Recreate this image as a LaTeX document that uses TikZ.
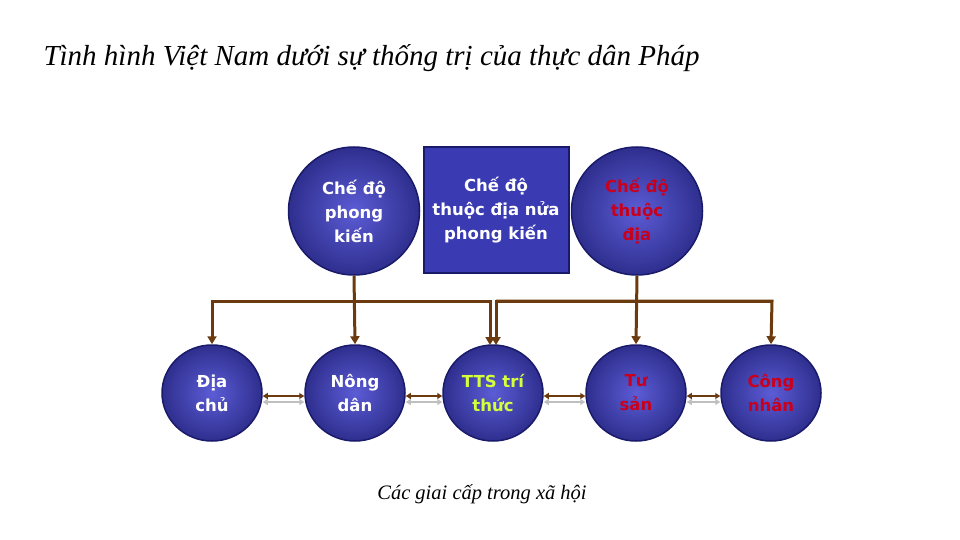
\documentclass[tikz,border=0pt]{standalone}
\usepackage{fontspec}
\setmainfont{Liberation Serif}
\newfontfamily\bubfont{DejaVu Sans}
\usetikzlibrary{arrows.meta,shapes.geometric}
\definecolor{brn}{HTML}{6B3A0E}
\definecolor{bblue}{HTML}{3A3AB2}
\definecolor{dblue}{HTML}{1A1A6A}
\definecolor{lblue}{HTML}{5C5CD6}
\definecolor{rtxt}{HTML}{C8001E}
\definecolor{ytxt}{HTML}{D4FF3A}
\begin{document}
\begin{tikzpicture}[x=1pt,y=-1pt,
  bub/.style={ellipse,draw=dblue,line width=1.5pt,inner color=lblue,outer color=bblue!80!black,
    font=\bubfont\bfseries\fontsize{16.5}{24}\selectfont,align=center,text=white},
  big/.style={bub,minimum width=131pt,minimum height=128pt,inner sep=0pt},
  small/.style={bub,minimum width=100pt,minimum height=96pt,inner sep=0pt},
  conn/.style={draw=brn,line width=3pt,-{Triangle[length=8pt,width=9pt]}},
  dbl/.style={draw=brn,line width=2pt,{Triangle[length=5pt,width=6pt]}-{Triangle[length=5pt,width=6pt]}},
  shd/.style={draw=gray!50,line width=2pt,{Triangle[length=5pt,width=6pt]}-{Triangle[length=5pt,width=6pt]}}]
\useasboundingbox (0,0) rectangle (960,540);
\node[anchor=west,font=\itshape\fontsize{29}{33}\selectfont] (title) at (40,58) {Tình hình Việt Nam dưới sự thống trị của thực dân Pháp};
\node[big] (fk) at (354,211) {Chế độ\\phong\\kiến};
\node[big,text=rtxt] (td) at (637,211) {Chế độ\\thuộc\\địa};
\node[draw=dblue,line width=2pt,fill=bblue,minimum width=145pt,minimum height=126pt,inner sep=0pt,
  font=\bubfont\bfseries\fontsize{16.5}{24}\selectfont,align=center,text=white] (sq) at (496,210) {Chế độ\\thuộc địa nửa\\phong kiến};
\node[small] (dc) at (212,393) {Địa\\chủ};
\node[small] (nd) at (355,393) {Nông\\dân};
\node[small,text=ytxt] (tts) at (493,393) {TTS trí\\thức};
\node[small,text=rtxt] (ts) at (636,393) {Tư\\sản};
\node[small,text=rtxt] (cn) at (771,393) {Công\\nhân};
\coordinate (l1) at (212,301);
\coordinate (l2) at (490,301);
\coordinate (r1) at (496,301);
\coordinate (r2) at (772,301);
\draw[conn] (fk.south) -- (nd.north);
\draw[conn] (td.south) -- (ts.north);
\draw[conn] (l2) -- (l1) -- (dc.north);
\draw[conn] (l1) -- (l2) -- (490,345);
\draw[conn] (r2) -- (r1) -- (496,345);
\draw[conn] (r1) -- (r2) -- (cn.north);
\foreach \a/\b in {dc/nd,nd/tts,tts/ts,ts/cn}{
  \draw[shd] ([yshift=-9pt]\a.east) -- ([yshift=-9pt]\b.west);
  \draw[dbl] ([yshift=-3pt]\a.east) -- ([yshift=-3pt]\b.west);
}
\node[font=\itshape\fontsize{20.5}{24}\selectfont] (cap) at (482,494) {Các giai cấp trong xã hội};
\end{tikzpicture}
\end{document}
